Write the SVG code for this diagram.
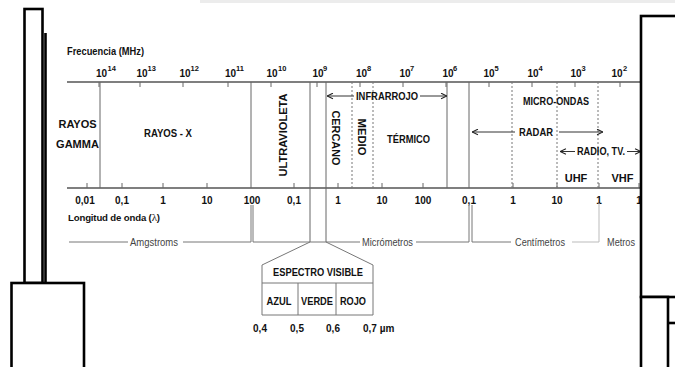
<svg xmlns="http://www.w3.org/2000/svg" width="675" height="367" viewBox="0 0 675 367">
<defs>
<marker id="arr" viewBox="0 0 10 10" refX="9.5" refY="5" markerWidth="7" markerHeight="7" markerUnits="userSpaceOnUse" orient="auto-start-reverse">
<path d="M1,1 L9.5,5 L1,9" fill="none" stroke="#222" stroke-width="1.6"/>
</marker>
<style>
text{font-family:"Liberation Sans",Arial,sans-serif;fill:#111}
.b{font-weight:bold;font-size:11px}
.ax{font-weight:bold;font-size:10px}
.sup{font-weight:bold;font-size:7.5px}
.u{font-size:11px;fill:#444}
.m{text-anchor:middle}
.axis{stroke:#555;stroke-width:1.4;fill:none}
.v{stroke:#666;stroke-width:1;fill:none}
.d{stroke:#777;stroke-width:1;stroke-dasharray:2,2;fill:none}
.g{stroke:#777;stroke-width:1;fill:none}
.lg{stroke:#bbb;stroke-width:1;fill:none}
.a{stroke:#333;stroke-width:1;fill:none}
.frame{stroke:#000;stroke-width:2.6;fill:#fff}
</style>
</defs>
<rect width="675" height="367" fill="#fff"/>
<rect x="200" y="0" width="475" height="3" fill="#ececec"/>

<g id="top-axis">
<line class="axis" x1="67" y1="82" x2="641" y2="82"/>
<path class="v" d="M99,82v5M140,82v5M183,82v5M228,82v5M271,82v5M317,82v5M360,82v5M403,82v5M446,82v5M489,82v5M532,82v5M575,82v5M620,82v5"/>
<text class="b" x="67" y="55" textLength="77" lengthAdjust="spacingAndGlyphs">Frecuencia (MHz)</text>
<text class="ax" x="96" y="77">10</text><text class="sup" x="107.5" y="71">14</text>
<text class="ax" x="136.5" y="77">10</text><text class="sup" x="147.5" y="71">13</text>
<text class="ax" x="179.5" y="77">10</text><text class="sup" x="190.5" y="71">12</text>
<text class="ax" x="225" y="77">10</text><text class="sup" x="236" y="71">11</text>
<text class="ax" x="266.5" y="77">10</text><text class="sup" x="278" y="71">10</text>
<text class="ax" x="312.5" y="77">10</text><text class="sup" x="323" y="71">9</text>
<text class="ax" x="356" y="77">10</text><text class="sup" x="367" y="71">8</text>
<text class="ax" x="399.5" y="77">10</text><text class="sup" x="410" y="71">7</text>
<text class="ax" x="442.5" y="77">10</text><text class="sup" x="453" y="71">6</text>
<text class="ax" x="483.5" y="77">10</text><text class="sup" x="494.5" y="71">5</text>
<text class="ax" x="527.5" y="77">10</text><text class="sup" x="538.5" y="71">4</text>
<text class="ax" x="570.5" y="77">10</text><text class="sup" x="581.5" y="71">3</text>
<text class="ax" x="611.5" y="77">10</text><text class="sup" x="623" y="71">2</text>
</g>

<g id="bottom-axis">
<line class="axis" x1="67" y1="188" x2="641" y2="188"/>
<path class="v" d="M87,188v-5M122,188v-5M163,188v-5M207,188v-5M294,188v-5M338,188v-5M382,188v-5M423,188v-5M513,188v-5M557,188v-5M599,188v-5M639,188v-5"/>
<text class="ax m" x="85" y="204">0,01</text>
<text class="ax m" x="122" y="204">0,1</text>
<text class="ax m" x="163" y="204">1</text>
<text class="ax m" x="207" y="204">10</text>
<text class="ax m" x="252" y="204">100</text>
<text class="ax m" x="294" y="204">0,1</text>
<text class="ax m" x="338" y="204">1</text>
<text class="ax m" x="382" y="204">10</text>
<text class="ax m" x="423" y="204">100</text>
<text class="ax m" x="469" y="204">0,1</text>
<text class="ax m" x="513" y="204">1</text>
<text class="ax m" x="557" y="204">10</text>
<text class="ax m" x="599" y="204">1</text>
<text class="ax m" x="639" y="204">1</text>
<text x="68" y="221" font-weight="bold" font-size="9.6px" letter-spacing="-0.15">Longitud de onda (<tspan font-weight="normal" font-family="Liberation Serif,serif" font-size="11px">λ</tspan>)</text>
</g>

<g id="bands">
<path class="v" d="M100,82V188M251,82V188M447,82V188M469,82V188"/>
<path class="v" d="M310,82V242M326,82V242"/>
<path class="d" d="M352,82V188M373,82V188M512,82V188M557,82V188M598,82V188"/>
</g>

<g id="gamma"><text class="b m" x="77.5" y="128">RAYOS</text><text class="b m" x="77.5" y="148">GAMMA</text></g>
<g id="rayos-x"><text class="b m" x="168" y="137" textLength="48" lengthAdjust="spacingAndGlyphs">RAYOS - X</text></g>
<g id="ultravioleta"><text class="b m" transform="translate(287,135) rotate(-90)" textLength="83" lengthAdjust="spacingAndGlyphs">ULTRAVIOLETA</text></g>
<g id="infrarrojo"><text class="b" x="356" y="100" textLength="62" lengthAdjust="spacingAndGlyphs">INFRARROJO</text></g>
<g id="cercano"><text class="b m" transform="translate(332,138) rotate(90)" textLength="55" lengthAdjust="spacingAndGlyphs">CERCANO</text></g>
<g id="medio"><text class="b m" transform="translate(358,137) rotate(90)" textLength="37" lengthAdjust="spacingAndGlyphs">MEDIO</text></g>
<g id="termico"><text class="b m" x="408.5" y="143" textLength="43" lengthAdjust="spacingAndGlyphs">TÉRMICO</text></g>
<g id="micro-ondas"><text class="b m" x="556" y="105" textLength="66" lengthAdjust="spacingAndGlyphs">MICRO-ONDAS</text></g>
<g id="radar"><text class="b m" x="536" y="136" textLength="34" lengthAdjust="spacingAndGlyphs">RADAR</text></g>
<g id="radio-tv"><text class="b" x="577" y="155" textLength="48" lengthAdjust="spacingAndGlyphs">RADIO, TV.</text></g>
<g id="uhf"><text class="b m" x="576" y="182">UHF</text></g>
<g id="vhf"><text class="b m" x="622.5" y="182">VHF</text></g>

<g id="connectors">
<line class="a" x1="327" y1="96" x2="354" y2="96" marker-start="url(#arr)"/>
<line class="a" x1="420" y1="96" x2="447" y2="96" marker-end="url(#arr)"/>
<line class="a" x1="472" y1="132" x2="515" y2="132" marker-start="url(#arr)"/>
<line class="a" x1="559" y1="132" x2="603" y2="132" marker-end="url(#arr)"/>
<line class="a" x1="560" y1="151.5" x2="575" y2="151.5" marker-start="url(#arr)"/>
<line class="a" x1="627" y1="151.5" x2="641" y2="151.5" marker-end="url(#arr)"/>
</g>

<g id="units">
<path class="g" d="M69,242H128M183,242H251V205M253,205V242H360M416,242H469V205M472,205V242H511"/>
<path class="lg" d="M572,242H599V203"/>
<text class="u" x="130" y="246" textLength="48" lengthAdjust="spacingAndGlyphs">Amgstroms</text>
<text class="u" x="362" y="246" textLength="51" lengthAdjust="spacingAndGlyphs">Micrómetros</text>
<text class="u" x="515" y="246" textLength="50" lengthAdjust="spacingAndGlyphs">Centímetros</text>
<text class="u" x="607" y="246" textLength="28" lengthAdjust="spacingAndGlyphs">Metros</text>
</g>

<g id="espectro-visible">
<path class="g" d="M310,242L262,265V315H373V265L326,242M262,283H373M298,283V315M336,283V315"/>
<text class="b m" x="318" y="276" textLength="90" lengthAdjust="spacingAndGlyphs">ESPECTRO VISIBLE</text>
<text class="b m" x="279" y="305" textLength="25" lengthAdjust="spacingAndGlyphs">AZUL</text>
<text class="b m" x="317" y="305" textLength="32" lengthAdjust="spacingAndGlyphs">VERDE</text>
<text class="b m" x="353" y="305" textLength="26" lengthAdjust="spacingAndGlyphs">ROJO</text>
<text class="ax m" x="260" y="332">0,4</text>
<text class="ax m" x="297" y="332">0,5</text>
<text class="ax m" x="333" y="332">0,6</text>
<text class="ax" x="363" y="332">0,7 µm</text>
</g>

<g id="frames">
<rect class="frame" x="24.5" y="9" width="18" height="274"/>
<line stroke="#000" stroke-width="2.6" x1="45.5" y1="33" x2="45.5" y2="283"/>
<rect class="frame" x="11.5" y="283" width="72.5" height="100"/>
<rect class="frame" x="641" y="16" width="60" height="281"/>
<rect class="frame" x="641" y="297" width="27" height="90"/>
<line stroke="#000" stroke-width="2.6" x1="668" y1="323" x2="680" y2="323"/>
</g>
</svg>
